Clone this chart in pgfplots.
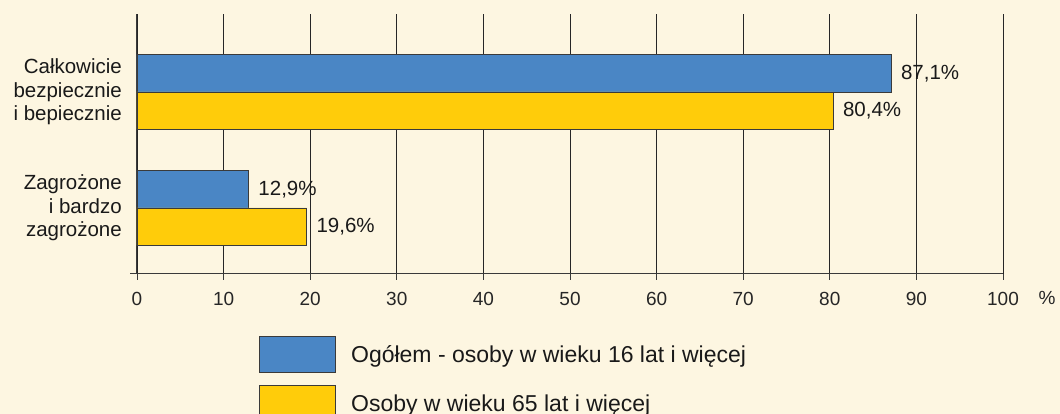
\documentclass[border=0pt]{standalone}
\usepackage{pgfplots}
\pgfplotsset{compat=1.18}
\usepackage{fontspec}
\setmainfont{Liberation Sans}
\definecolor{bg}{HTML}{FDF6E1}
\definecolor{cblue}{HTML}{4A86C5}
\definecolor{cyel}{HTML}{FFCC0A}
\definecolor{edge}{HTML}{3A3A3A}
\begin{document}
\begin{tikzpicture}
\fill[bg] (0,0) rectangle (1060pt,414pt);
\path[use as bounding box] (0,0) rectangle (1060pt,414pt);
\begin{axis}[
  at={(137pt,140pt)}, anchor=south west,
  scale only axis, width=866pt, height=260pt,
  xbar, bar width=37.5pt,
  xmin=0, xmax=100, ymin=-0.569, ymax=1.672,
  axis x line=bottom, axis y line=left,
  axis line style={-, edge, line width=1pt},
  xtick={0,10,...,100}, ytick={0,1},
  yticklabels={{Zagrożone\\i bardzo\\zagrożone},{Całkowicie\\bezpiecznie\\i bepiecznie}},
  xmajorgrids, grid style={black!85, line width=0.9pt},
  xtick align=outside, major tick length=6pt,
  x tick style={edge, line width=0.9pt},
  y tick style={draw=none},
  /pgf/number format/assume math mode=true,
  xticklabel style={font=\fontsize{19}{22}\selectfont, text=black!85, yshift=-9pt},
  yticklabel style={align=right, font=\fontsize{20.5}{23.5}\selectfont, inner sep=0pt, xshift=-12pt, text=black!90},
  nodes near coords, point meta=explicit symbolic,
  nodes near coords style={anchor=west, font=\fontsize{20.5}{23.5}\selectfont, xshift=6pt, text=black!90},
  legend image code/.code={\draw[#1] (0pt,-18pt) rectangle (76pt,18pt);},
  legend style={at={(0.1409,-0.2385)}, anchor=north west, draw=none, fill=none, inner sep=0pt,
    row sep=12pt, font=\fontsize{23}{27}\selectfont, text=black!90, nodes={inner sep=0pt},
    column sep=15pt},
  legend cell align=left,
  clip=false,
]
\addplot[fill=cblue, draw=edge, line width=0.9pt, bar shift=18.75pt] coordinates {(87.1,1)[87,1\%] (12.9,0)[12,9\%]};
\addlegendentry{Ogółem - osoby w wieku 16 lat i więcej}
\addplot[fill=cyel, draw=edge, line width=0.9pt, bar shift=-18.75pt] coordinates {(80.4,1)[80,4\%] (19.6,0)[19,6\%]};
\addlegendentry{Osoby w wieku 65 lat i więcej}
\draw[edge, line width=1pt] (axis cs:0,-0.569) -- ++(-7pt,0pt);
\node[font=\fontsize{19}{22}\selectfont, text=black!85] at ([xshift=44pt,yshift=-24pt]axis cs:100,-0.569) {\%};
\end{axis}
\end{tikzpicture}
\end{document}
